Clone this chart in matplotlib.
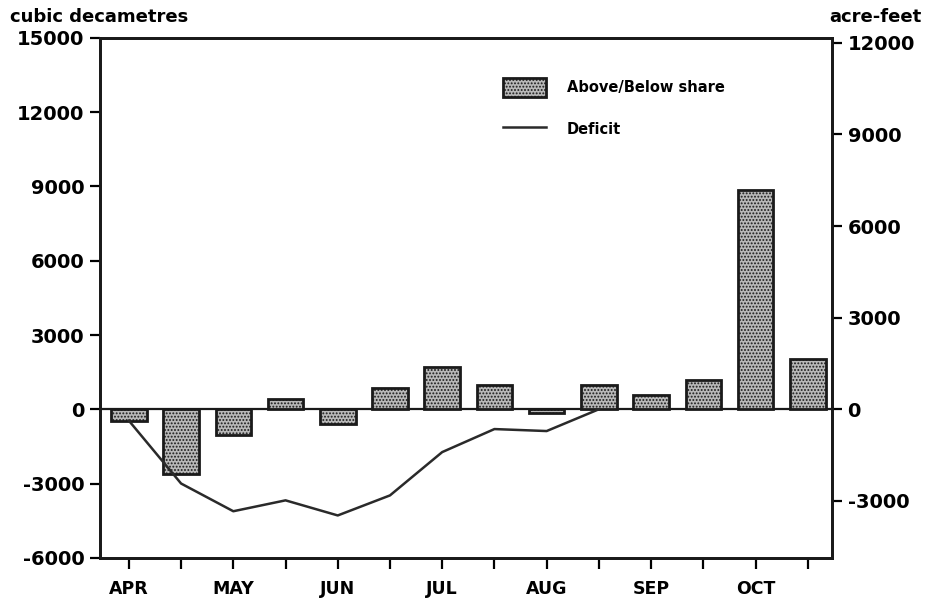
import numpy as np
import matplotlib.pyplot as plt
from matplotlib.patches import Patch
from matplotlib.lines import Line2D

# =========================
# Data (half-month periods, cubic decametres)
# =========================
months = ["APR", "", "MAY", "", "JUN", "", "JUL", "", "AUG", "", "SEP", "", "OCT", ""]
above_below = [-460, -2600, -1050, 420, -600, 860, 1710, 970, -150, 970, 570, 1200, 8850, 2050]
deficit = [-460, -3000, -4120, -3680, -4290, -3480, -1730, -800, -880, 0]

DAM3_PER_ACFT = 1.2335

plt.rcParams["font.family"] = ["DejaVu Sans"]
plt.rcParams["font.weight"] = "bold"
plt.rcParams["axes.unicode_minus"] = False
plt.rcParams["hatch.color"] = "#3a3a3a"
plt.rcParams["hatch.linewidth"] = 0.9

BAR_FACE = "#b8b8b8"

fig = plt.figure(figsize=(9.31, 6.03), dpi=100)
ax = fig.add_axes([0.107, 0.075, 0.787, 0.862])

x = np.arange(len(months))
ax.bar(x, above_below, width=0.68, facecolor=BAR_FACE, edgecolor="#1a1a1a",
       linewidth=2, hatch=".....", zorder=3)
ax.plot(x[:len(deficit)], deficit, color="#2a2a2a", linewidth=1.8, zorder=4)
ax.axhline(0, color="#1a1a1a", linewidth=1.6, zorder=2)

ax.set_xlim(-0.56, 13.47)
ax.set_ylim(-6000, 15000)
ax.set_yticks(np.arange(-6000, 15001, 3000))
ax.set_xticks(x)
ax.set_xticklabels(months, fontsize=12.5, fontweight="bold")
ax.tick_params(axis="y", direction="out", length=7, width=1.6, labelsize=14, pad=4)
ax.tick_params(axis="x", direction="out", length=8, width=1.6, pad=8)
for s in ax.spines.values():
    s.set_linewidth(2)
    s.set_color("#1a1a1a")

# right axis in acre-feet
ax2 = ax.twinx()
lo, hi = ax.get_ylim()
ax2.set_ylim(lo / DAM3_PER_ACFT, hi / DAM3_PER_ACFT)
ax2.set_yticks(np.arange(-3000, 12001, 3000))
ax2.tick_params(axis="y", direction="out", length=7, width=1.6, labelsize=14, pad=4)
for s in ax2.spines.values():
    s.set_linewidth(2)
    s.set_color("#1a1a1a")

fig.text(0.011, 0.972, "cubic decametres", fontsize=13, fontweight="bold", va="center")
fig.text(0.99, 0.972, "acre-feet", fontsize=13, fontweight="bold", va="center", ha="right")

handles = [Patch(facecolor=BAR_FACE, edgecolor="#1a1a1a", linewidth=2, hatch="....."),
           Line2D([0], [0], color="#2a2a2a", linewidth=1.8)]
ax.legend(handles, ["Above/Below share", "Deficit"], loc="upper left",
          bbox_to_anchor=(0.532, 0.948), frameon=False, fontsize=10.5,
          handlelength=3.0, handleheight=1.6, handletextpad=1.4, labelspacing=1.6)

plt.savefig("out.png", dpi=100)
